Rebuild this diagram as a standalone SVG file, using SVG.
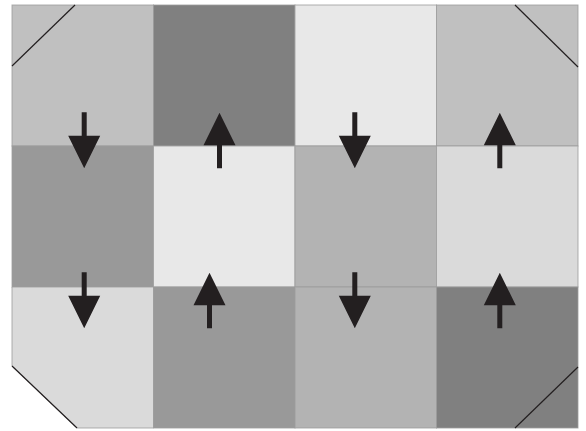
<svg xmlns="http://www.w3.org/2000/svg" width="586" height="431" viewBox="0 0 586 431">
<defs>
<style>
.cell{stroke:#9c9c9c;stroke-width:1;stroke-opacity:0.8}
.diag{stroke:#231f20;stroke-width:1.2;fill:none}
.arrow{fill:#231f20}
</style>
<path id="down" d="M-2.5,-56 H2.5 V-32.5 H16 L0,0 L-16,-32.5 H-2.5 Z"/>
<path id="up" d="M0,0 L16,32.5 H2.5 V55.5 H-2.5 V32.5 H-16 Z"/>
</defs>
<rect width="586" height="431" fill="#ffffff"/>
<g id="cells">
<rect id="r1c1" class="cell" x="12" y="5" width="141.5" height="141" fill="#c0c0c0"/>
<rect id="r1c2" class="cell" x="153.5" y="5" width="141.5" height="141" fill="#808080"/>
<rect id="r1c3" class="cell" x="295" y="5" width="141.5" height="141" fill="#e8e8e8"/>
<rect id="r1c4" class="cell" x="436.5" y="5" width="141.5" height="141" fill="#c0c0c0"/>
<rect id="r2c1" class="cell" x="12" y="146" width="141.5" height="141" fill="#999999"/>
<rect id="r2c2" class="cell" x="153.5" y="146" width="141.5" height="141" fill="#e8e8e8"/>
<rect id="r2c3" class="cell" x="295" y="146" width="141.5" height="141" fill="#b3b3b3"/>
<rect id="r2c4" class="cell" x="436.5" y="146" width="141.5" height="141" fill="#dadada"/>
<polygon id="r3c1" class="cell" points="12,287 153.5,287 153.5,428 77,428 12,366" fill="#dadada"/>
<rect id="r3c2" class="cell" x="153.5" y="287" width="141.5" height="141" fill="#999999"/>
<rect id="r3c3" class="cell" x="295" y="287" width="141.5" height="141" fill="#b3b3b3"/>
<rect id="r3c4" class="cell" x="436.5" y="287" width="141.5" height="141" fill="#808080"/>
</g>
<g id="corners">
<line class="diag" x1="12" y1="66" x2="75" y2="5"/>
<line class="diag" x1="515" y1="5" x2="578" y2="67"/>
<line class="diag" x1="12" y1="366" x2="77" y2="428"/>
<line class="diag" x1="515" y1="428" x2="578" y2="367"/>
</g>
<g id="arrows" class="arrow">
<use href="#down" x="84.2" y="168.3"/>
<use href="#up" x="219.5" y="112.7"/>
<use href="#down" x="354.8" y="168.3"/>
<use href="#up" x="499.8" y="112.7"/>
<use href="#down" x="84.2" y="328.3"/>
<use href="#up" x="209.5" y="272.7"/>
<use href="#down" x="354.8" y="328.3"/>
<use href="#up" x="499.8" y="272.7"/>
</g>
</svg>
